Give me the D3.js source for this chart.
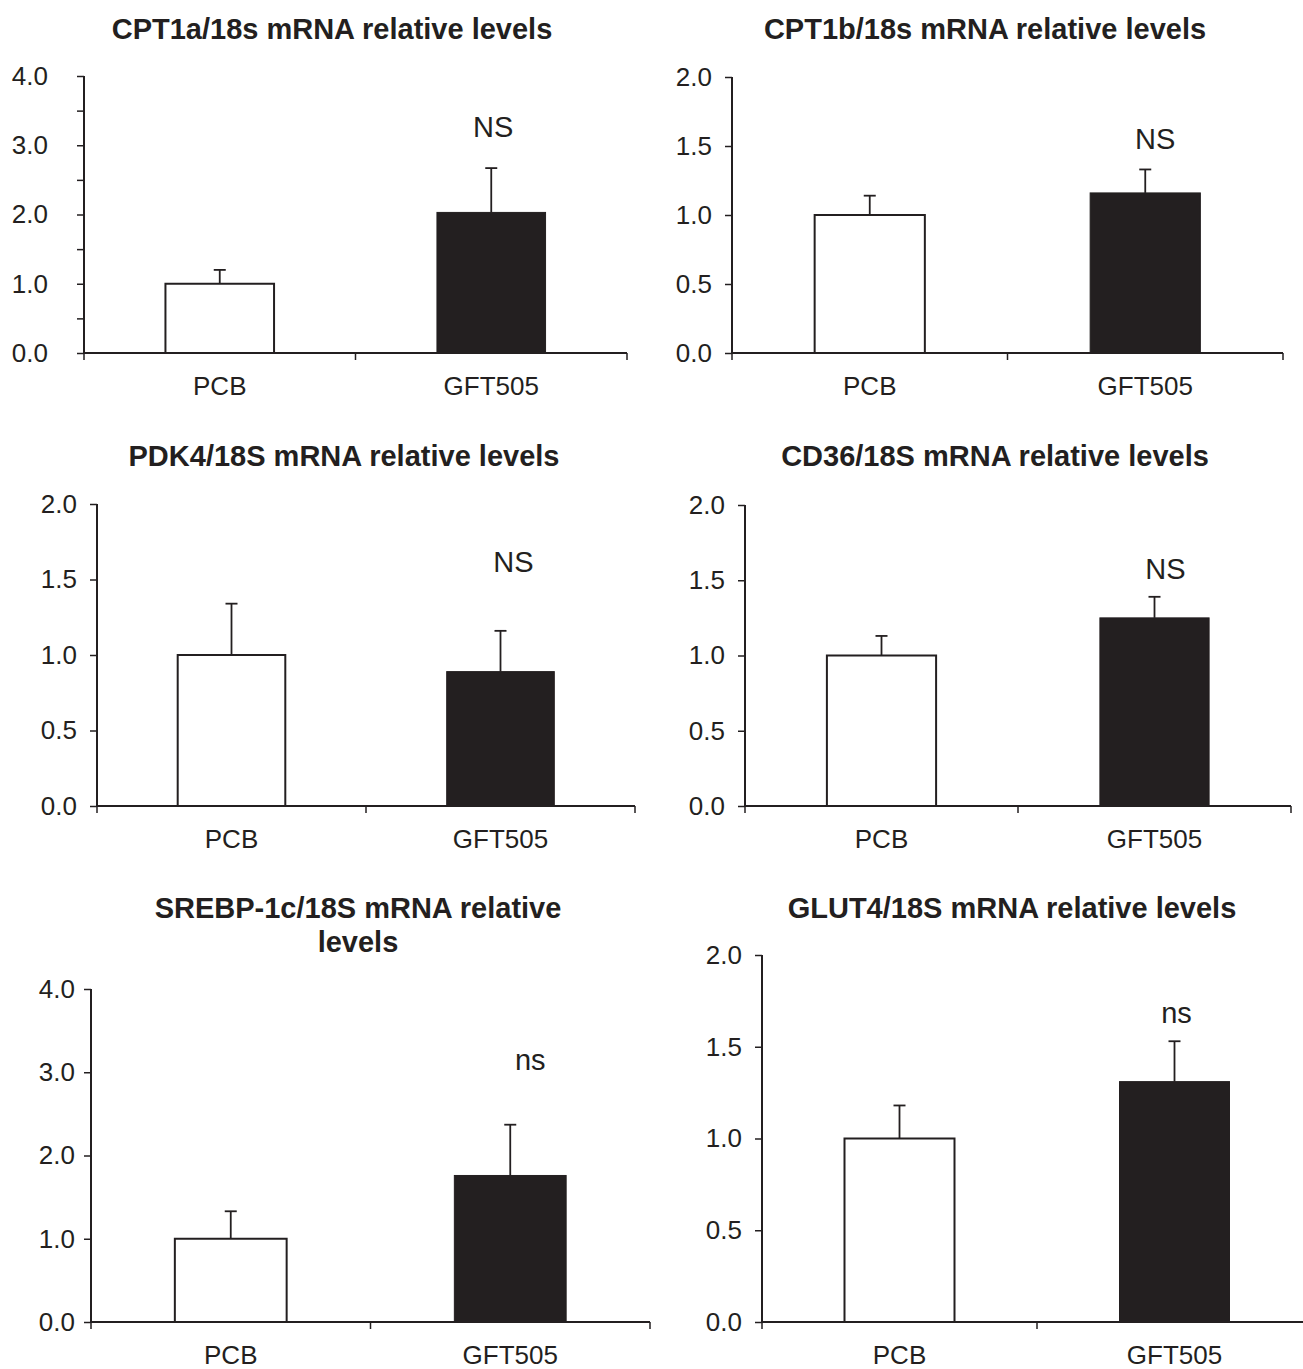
<!DOCTYPE html>
<html>
<head>
<meta charset="utf-8">
<script src="https://cdn.jsdelivr.net/npm/d3@7"></script>
<style>
  body { margin: 0; background: #fff; }
  text { font-family: "Liberation Sans", Arial, sans-serif; fill: #231f20; }
</style>
</head>
<body>
<script>
// data
var categories = ["PCB", "GFT505"];
var titles = [
  ["CPT1a/18s mRNA relative levels"],
  ["CPT1b/18s mRNA relative levels"],
  ["PDK4/18S mRNA relative levels"],
  ["CD36/18S mRNA relative levels"],
  ["SREBP-1c/18S mRNA relative", "levels"],
  ["GLUT4/18S mRNA relative levels"]
];
var pcbMeans  = [1.0, 1.0, 1.0, 1.0, 1.0, 1.0];
var pcbErr    = [0.20, 0.14, 0.34, 0.13, 0.33, 0.18];
var gftMeans  = [2.03, 1.16, 0.89, 1.25, 1.76, 1.31];
var gftErr    = [0.64, 0.17, 0.27, 0.14, 0.61, 0.22];
var sigLabels = ["NS", "NS", "NS", "NS", "ns", "ns"];
var sigValue  = [3.12, 1.48, 1.55, 1.51, 3.03, 1.63];
var yMax      = [4, 2, 2, 2, 4, 2];
var tickStep  = [0.5, 0.5, 0.5, 0.5, 1, 0.5];
var labelStep = [1, 0.5, 0.5, 0.5, 1, 0.5];

// layout of each panel on the page (pixels)
var layout = [
  {x0: 84,  x1: 627,  y0: 353,  y1: 76,  lab: 36, ty: [39],      tx: 332,  sdx: 2},
  {x0: 732, x1: 1283, y0: 353,  y1: 77,  lab: 20, ty: [39],      tx: 985,  sdx: 10},
  {x0: 97,  x1: 635,  y0: 806,  y1: 504, lab: 20, ty: [466],     tx: 344,  sdx: 13},
  {x0: 745, x1: 1291, y0: 806,  y1: 505, lab: 20, ty: [466],     tx: 995,  sdx: 11},
  {x0: 91,  x1: 650,  y0: 1322, y1: 989, lab: 16, ty: [918, 952], tx: 358, sdx: 20},
  {x0: 762, x1: 1312, y0: 1322, y1: 955, lab: 20, ty: [918],     tx: 1012, sdx: 2}
];

var ink = "#231f20";
var svg = d3.select("body").append("svg")
  .attr("width", 1303)
  .attr("height", 1369);

layout.forEach(function(L, p) {
  var g = svg.append("g");

  var x = d3.scaleBand()
    .domain(categories)
    .range([L.x0, L.x1])
    .paddingInner(0)
    .paddingOuter(0);

  var y = d3.scaleLinear()
    .domain([0, yMax[p]])
    .range([L.y0, L.y1]);

  var bars = [
    {cat: categories[0], mean: pcbMeans[p], err: pcbErr[p], fill: "#fff"},
    {cat: categories[1], mean: gftMeans[p], err: gftErr[p], fill: ink}
  ];
  var bw = x.bandwidth() * 0.4;

  // error bars (behind the bars)
  bars.forEach(function(d) {
    var cx = x(d.cat) + x.bandwidth() / 2;
    g.append("line")
      .attr("x1", cx).attr("x2", cx)
      .attr("y1", y(d.mean)).attr("y2", y(d.mean + d.err))
      .attr("stroke", ink).attr("stroke-width", 1.8);
    g.append("line")
      .attr("x1", cx - 6).attr("x2", cx + 6)
      .attr("y1", y(d.mean + d.err)).attr("y2", y(d.mean + d.err))
      .attr("stroke", ink).attr("stroke-width", 1.8);
  });

  g.selectAll(".bar")
    .data(bars)
    .enter().append("rect")
    .attr("x", function(d) { return x(d.cat) + (x.bandwidth() - bw) / 2; })
    .attr("y", function(d) { return y(d.mean); })
    .attr("width", bw)
    .attr("height", function(d) { return L.y0 - y(d.mean); })
    .attr("fill", function(d) { return d.fill; })
    .attr("stroke", ink)
    .attr("stroke-width", function(d, i) { return i === 0 ? 2 : 1; });

  // y axis
  var ticks = d3.range(0, yMax[p] + 1e-9, tickStep[p]);
  var yAxis = g.append("g")
    .attr("transform", "translate(" + L.x0 + ",0)")
    .call(d3.axisLeft(y).tickValues(ticks).tickSize(7).tickPadding(L.lab - 7)
      .tickFormat(function(v) {
        return Math.abs(v / labelStep[p] - Math.round(v / labelStep[p])) < 1e-6 ? d3.format(".1f")(v) : "";
      }));
  yAxis.select(".domain").attr("stroke", ink).attr("stroke-width", 2).attr("d", "M0," + L.y0 + "V" + L.y1);
  yAxis.selectAll(".tick line").attr("stroke", ink).attr("stroke-width", 1.5);
  yAxis.selectAll(".tick text")
    .attr("font-size", "26px")
    .attr("font-family", "Liberation Sans, Arial, sans-serif")
    .attr("fill", ink);

  // x axis: line with separators at band edges
  var edges = categories.map(function(c) { return x(c); }).concat([L.x1]);
  g.append("line")
    .attr("x1", L.x0).attr("x2", Math.min(L.x1, 1303))
    .attr("y1", L.y0).attr("y2", L.y0)
    .attr("stroke", ink).attr("stroke-width", 2);
  g.selectAll(".sep")
    .data(edges)
    .enter().append("line")
    .attr("x1", function(d) { return d; }).attr("x2", function(d) { return d; })
    .attr("y1", L.y0).attr("y2", L.y0 + 7)
    .attr("stroke", ink).attr("stroke-width", 1.5);

  g.selectAll(".cat")
    .data(categories)
    .enter().append("text")
    .attr("x", function(d) { return x(d) + x.bandwidth() / 2; })
    .attr("y", L.y0 + 42)
    .attr("text-anchor", "middle")
    .attr("font-size", "26px")
    .text(function(d) { return d; });

  // title
  titles[p].forEach(function(t, i) {
    g.append("text")
      .attr("x", L.tx)
      .attr("y", L.ty[i])
      .attr("text-anchor", "middle")
      .attr("font-size", "29px")
      .attr("font-weight", "bold")
      .text(t);
  });

  // significance label
  g.append("text")
    .attr("x", x(categories[1]) + x.bandwidth() / 2 + L.sdx)
    .attr("y", y(sigValue[p]))
    .attr("text-anchor", "middle")
    .attr("font-size", "29px")
    .text(sigLabels[p]);
});
</script>
</body>
</html>
